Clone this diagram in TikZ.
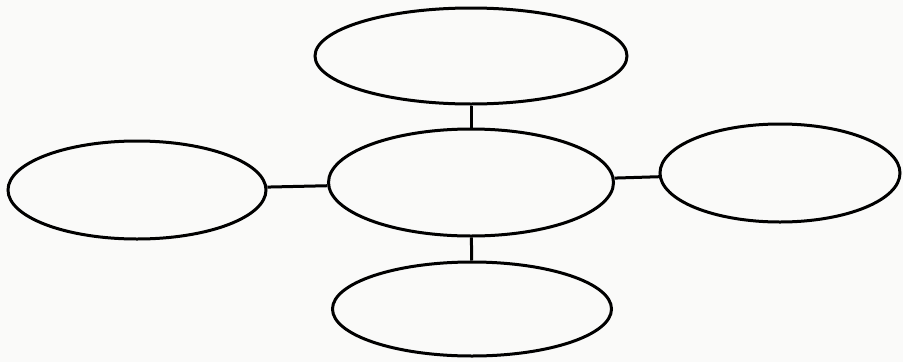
\documentclass[tikz,border=0pt]{standalone}
\usetikzlibrary{shapes.geometric}
\definecolor{paper}{RGB}{250,250,249}
\tikzset{
  bubble/.style={ellipse, draw=black, line width=3pt, inner sep=0pt, fill=paper},
  link/.style={draw=black, line width=3pt}
}
\begin{document}
\begin{tikzpicture}[x=1pt,y=-1pt]
\fill[paper] (0,0) rectangle (903,362);
\useasboundingbox (0,0) rectangle (903,362);
\node[bubble, minimum width=312pt, minimum height=96pt] (top) at (471,56) {};
\node[bubble, minimum width=285pt, minimum height=107pt] (mid) at (471,182.5) {};
\node[bubble, minimum width=258pt, minimum height=98pt] (left) at (137,190) {};
\node[bubble, minimum width=240pt, minimum height=98pt] (right) at (780,173) {};
\node[bubble, minimum width=279pt, minimum height=94pt] (bottom) at (472,309) {};
\draw[link] (top) -- (mid);
\draw[link] (left) -- (mid);
\draw[link] (mid) -- (right);
\draw[link] (mid) -- (bottom);
\end{tikzpicture}
\end{document}
